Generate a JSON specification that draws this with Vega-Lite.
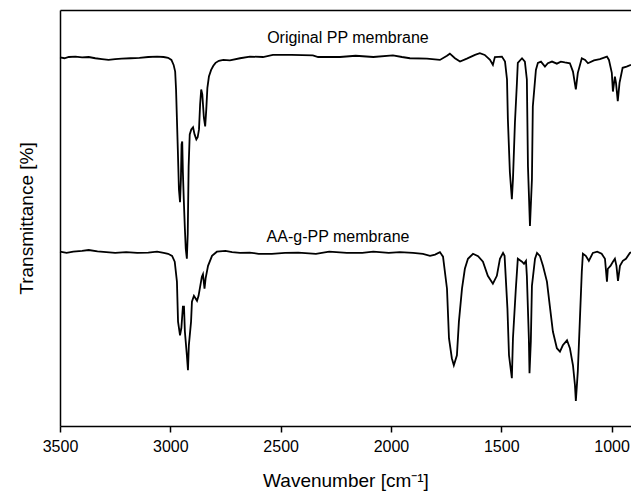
{
"$schema": "https://vega.github.io/schema/vega-lite/v6.json",
"width": 571, "height": 416,
"autosize": {"type": "none"},
"padding": {"left": 60, "top": 10, "right": 0, "bottom": 69},
"background": "white",
"config": {
 "view": {"stroke": null},
 "font": "Liberation Sans",
 "axis": {"grid": false, "domainColor": "black", "domainWidth": 1.5, "labelFont": "Liberation Sans", "labelFontSize": 16, "labelColor": "black", "titleFont": "Liberation Sans", "titleFontSize": 19, "titleFontWeight": "normal", "titleColor": "black"},
 "axisY": {"ticks": false, "labels": false, "titlePadding": 24},
 "axisX": {"tickSize": 6, "tickColor": "black", "tickWidth": 1.5, "labelPadding": 6, "titlePadding": 17, "labelFlush": false, "labelOverlap": false}
},
"datasets": {
"spectra": [
{"sample":"PP","wavenumber":3500,"transmittance":88.6},{"sample":"PP","wavenumber":3480,"transmittance":88.4},{"sample":"PP","wavenumber":3460,"transmittance":88.7},{"sample":"PP","wavenumber":3430,"transmittance":88.8},{"sample":"PP","wavenumber":3400,"transmittance":88.6},{"sample":"PP","wavenumber":3370,"transmittance":88.7},{"sample":"PP","wavenumber":3340,"transmittance":88.4},{"sample":"PP","wavenumber":3310,"transmittance":88.2},{"sample":"PP","wavenumber":3280,"transmittance":88.0},{"sample":"PP","wavenumber":3250,"transmittance":88.2},{"sample":"PP","wavenumber":3220,"transmittance":88.3},{"sample":"PP","wavenumber":3180,"transmittance":88.4},{"sample":"PP","wavenumber":3140,"transmittance":88.5},{"sample":"PP","wavenumber":3100,"transmittance":88.7},{"sample":"PP","wavenumber":3060,"transmittance":88.8},{"sample":"PP","wavenumber":3030,"transmittance":88.7},{"sample":"PP","wavenumber":3010,"transmittance":88.5},{"sample":"PP","wavenumber":2995,"transmittance":88.0},{"sample":"PP","wavenumber":2985,"transmittance":86.8},{"sample":"PP","wavenumber":2978,"transmittance":85.2},{"sample":"PP","wavenumber":2974,"transmittance":80.9},{"sample":"PP","wavenumber":2970,"transmittance":73.7},{"sample":"PP","wavenumber":2966,"transmittance":66.5},{"sample":"PP","wavenumber":2961,"transmittance":56.9},{"sample":"PP","wavenumber":2956,"transmittance":53.8},{"sample":"PP","wavenumber":2952,"transmittance":59.3},{"sample":"PP","wavenumber":2949,"transmittance":67.7},{"sample":"PP","wavenumber":2946,"transmittance":68.4},{"sample":"PP","wavenumber":2943,"transmittance":61.0},{"sample":"PP","wavenumber":2939,"transmittance":54.5},{"sample":"PP","wavenumber":2934,"transmittance":47.4},{"sample":"PP","wavenumber":2930,"transmittance":42.6},{"sample":"PP","wavenumber":2925,"transmittance":40.2},{"sample":"PP","wavenumber":2921,"transmittance":46.2},{"sample":"PP","wavenumber":2917,"transmittance":62.4},{"sample":"PP","wavenumber":2912,"transmittance":70.1},{"sample":"PP","wavenumber":2905,"transmittance":71.3},{"sample":"PP","wavenumber":2897,"transmittance":71.8},{"sample":"PP","wavenumber":2890,"transmittance":70.1},{"sample":"PP","wavenumber":2882,"transmittance":68.9},{"sample":"PP","wavenumber":2876,"transmittance":69.4},{"sample":"PP","wavenumber":2870,"transmittance":71.3},{"sample":"PP","wavenumber":2865,"transmittance":77.3},{"sample":"PP","wavenumber":2860,"transmittance":80.9},{"sample":"PP","wavenumber":2855,"transmittance":79.7},{"sample":"PP","wavenumber":2848,"transmittance":74.2},{"sample":"PP","wavenumber":2842,"transmittance":72.0},{"sample":"PP","wavenumber":2837,"transmittance":76.1},{"sample":"PP","wavenumber":2832,"transmittance":81.3},{"sample":"PP","wavenumber":2825,"transmittance":84.0},{"sample":"PP","wavenumber":2815,"transmittance":85.6},{"sample":"PP","wavenumber":2805,"transmittance":86.6},{"sample":"PP","wavenumber":2795,"transmittance":87.3},{"sample":"PP","wavenumber":2780,"transmittance":87.8},{"sample":"PP","wavenumber":2760,"transmittance":88.0},{"sample":"PP","wavenumber":2730,"transmittance":87.9},{"sample":"PP","wavenumber":2684,"transmittance":88.4},{"sample":"PP","wavenumber":2639,"transmittance":88.8},{"sample":"PP","wavenumber":2580,"transmittance":88.7},{"sample":"PP","wavenumber":2535,"transmittance":89.2},{"sample":"PP","wavenumber":2450,"transmittance":89.2},{"sample":"PP","wavenumber":2354,"transmittance":89.1},{"sample":"PP","wavenumber":2330,"transmittance":88.7},{"sample":"PP","wavenumber":2231,"transmittance":88.7},{"sample":"PP","wavenumber":2160,"transmittance":89.0},{"sample":"PP","wavenumber":2080,"transmittance":88.7},{"sample":"PP","wavenumber":1991,"transmittance":89.1},{"sample":"PP","wavenumber":1950,"transmittance":88.7},{"sample":"PP","wavenumber":1914,"transmittance":88.4},{"sample":"PP","wavenumber":1837,"transmittance":88.3},{"sample":"PP","wavenumber":1778,"transmittance":88.0},{"sample":"PP","wavenumber":1746,"transmittance":89.0},{"sample":"PP","wavenumber":1733,"transmittance":89.5},{"sample":"PP","wavenumber":1710,"transmittance":88.4},{"sample":"PP","wavenumber":1687,"transmittance":87.6},{"sample":"PP","wavenumber":1656,"transmittance":88.3},{"sample":"PP","wavenumber":1619,"transmittance":89.2},{"sample":"PP","wavenumber":1597,"transmittance":89.6},{"sample":"PP","wavenumber":1575,"transmittance":89.2},{"sample":"PP","wavenumber":1551,"transmittance":88.0},{"sample":"PP","wavenumber":1538,"transmittance":86.8},{"sample":"PP","wavenumber":1529,"transmittance":88.7},{"sample":"PP","wavenumber":1497,"transmittance":88.8},{"sample":"PP","wavenumber":1483,"transmittance":87.6},{"sample":"PP","wavenumber":1474,"transmittance":83.3},{"sample":"PP","wavenumber":1470,"transmittance":73.7},{"sample":"PP","wavenumber":1461,"transmittance":61.0},{"sample":"PP","wavenumber":1452,"transmittance":54.5},{"sample":"PP","wavenumber":1447,"transmittance":59.3},{"sample":"PP","wavenumber":1438,"transmittance":73.0},{"sample":"PP","wavenumber":1429,"transmittance":82.5},{"sample":"PP","wavenumber":1425,"transmittance":87.3},{"sample":"PP","wavenumber":1406,"transmittance":88.4},{"sample":"PP","wavenumber":1393,"transmittance":87.6},{"sample":"PP","wavenumber":1384,"transmittance":83.3},{"sample":"PP","wavenumber":1379,"transmittance":62.4},{"sample":"PP","wavenumber":1370,"transmittance":48.1},{"sample":"PP","wavenumber":1361,"transmittance":59.3},{"sample":"PP","wavenumber":1357,"transmittance":76.8},{"sample":"PP","wavenumber":1343,"transmittance":85.6},{"sample":"PP","wavenumber":1334,"transmittance":87.3},{"sample":"PP","wavenumber":1320,"transmittance":87.6},{"sample":"PP","wavenumber":1302,"transmittance":86.4},{"sample":"PP","wavenumber":1289,"transmittance":87.2},{"sample":"PP","wavenumber":1270,"transmittance":87.6},{"sample":"PP","wavenumber":1248,"transmittance":87.1},{"sample":"PP","wavenumber":1230,"transmittance":87.6},{"sample":"PP","wavenumber":1212,"transmittance":87.4},{"sample":"PP","wavenumber":1189,"transmittance":87.2},{"sample":"PP","wavenumber":1175,"transmittance":85.2},{"sample":"PP","wavenumber":1162,"transmittance":80.9},{"sample":"PP","wavenumber":1153,"transmittance":84.9},{"sample":"PP","wavenumber":1135,"transmittance":88.4},{"sample":"PP","wavenumber":1120,"transmittance":88.0},{"sample":"PP","wavenumber":1107,"transmittance":87.2},{"sample":"PP","wavenumber":1080,"transmittance":87.9},{"sample":"PP","wavenumber":1053,"transmittance":88.2},{"sample":"PP","wavenumber":1021,"transmittance":88.8},{"sample":"PP","wavenumber":1012,"transmittance":88.0},{"sample":"PP","wavenumber":999,"transmittance":84.9},{"sample":"PP","wavenumber":994,"transmittance":80.4},{"sample":"PP","wavenumber":985,"transmittance":84.0},{"sample":"PP","wavenumber":980,"transmittance":82.5},{"sample":"PP","wavenumber":972,"transmittance":78.1},{"sample":"PP","wavenumber":964,"transmittance":82.5},{"sample":"PP","wavenumber":950,"transmittance":86.1},{"sample":"PP","wavenumber":932,"transmittance":86.4},{"sample":"PP","wavenumber":912,"transmittance":86.8},
{"sample":"AA","wavenumber":3500,"transmittance":41.9},{"sample":"AA","wavenumber":3470,"transmittance":41.6},{"sample":"AA","wavenumber":3440,"transmittance":41.9},{"sample":"AA","wavenumber":3400,"transmittance":42.1},{"sample":"AA","wavenumber":3370,"transmittance":42.3},{"sample":"AA","wavenumber":3330,"transmittance":42.0},{"sample":"AA","wavenumber":3290,"transmittance":41.8},{"sample":"AA","wavenumber":3250,"transmittance":41.6},{"sample":"AA","wavenumber":3200,"transmittance":41.8},{"sample":"AA","wavenumber":3150,"transmittance":41.6},{"sample":"AA","wavenumber":3100,"transmittance":41.7},{"sample":"AA","wavenumber":3060,"transmittance":41.9},{"sample":"AA","wavenumber":3030,"transmittance":41.6},{"sample":"AA","wavenumber":3010,"transmittance":41.4},{"sample":"AA","wavenumber":2992,"transmittance":40.9},{"sample":"AA","wavenumber":2980,"transmittance":39.5},{"sample":"AA","wavenumber":2970,"transmittance":34.7},{"sample":"AA","wavenumber":2965,"transmittance":25.1},{"sample":"AA","wavenumber":2956,"transmittance":21.8},{"sample":"AA","wavenumber":2950,"transmittance":23.5},{"sample":"AA","wavenumber":2943,"transmittance":28.7},{"sample":"AA","wavenumber":2938,"transmittance":28.7},{"sample":"AA","wavenumber":2934,"transmittance":22.7},{"sample":"AA","wavenumber":2925,"transmittance":17.0},{"sample":"AA","wavenumber":2920,"transmittance":13.4},{"sample":"AA","wavenumber":2916,"transmittance":19.4},{"sample":"AA","wavenumber":2906,"transmittance":25.1},{"sample":"AA","wavenumber":2902,"transmittance":29.9},{"sample":"AA","wavenumber":2893,"transmittance":31.3},{"sample":"AA","wavenumber":2879,"transmittance":30.1},{"sample":"AA","wavenumber":2872,"transmittance":31.3},{"sample":"AA","wavenumber":2857,"transmittance":35.9},{"sample":"AA","wavenumber":2852,"transmittance":36.5},{"sample":"AA","wavenumber":2845,"transmittance":33.0},{"sample":"AA","wavenumber":2840,"transmittance":35.5},{"sample":"AA","wavenumber":2829,"transmittance":38.5},{"sample":"AA","wavenumber":2811,"transmittance":40.9},{"sample":"AA","wavenumber":2789,"transmittance":41.9},{"sample":"AA","wavenumber":2750,"transmittance":42.1},{"sample":"AA","wavenumber":2720,"transmittance":41.8},{"sample":"AA","wavenumber":2684,"transmittance":41.6},{"sample":"AA","wavenumber":2640,"transmittance":41.7},{"sample":"AA","wavenumber":2600,"transmittance":41.4},{"sample":"AA","wavenumber":2540,"transmittance":41.4},{"sample":"AA","wavenumber":2480,"transmittance":41.6},{"sample":"AA","wavenumber":2420,"transmittance":41.7},{"sample":"AA","wavenumber":2340,"transmittance":41.4},{"sample":"AA","wavenumber":2280,"transmittance":41.9},{"sample":"AA","wavenumber":2200,"transmittance":41.6},{"sample":"AA","wavenumber":2130,"transmittance":41.6},{"sample":"AA","wavenumber":2080,"transmittance":41.9},{"sample":"AA","wavenumber":2010,"transmittance":41.6},{"sample":"AA","wavenumber":1960,"transmittance":41.8},{"sample":"AA","wavenumber":1900,"transmittance":41.6},{"sample":"AA","wavenumber":1855,"transmittance":41.4},{"sample":"AA","wavenumber":1823,"transmittance":40.9},{"sample":"AA","wavenumber":1800,"transmittance":41.2},{"sample":"AA","wavenumber":1778,"transmittance":41.8},{"sample":"AA","wavenumber":1764,"transmittance":40.7},{"sample":"AA","wavenumber":1746,"transmittance":33.0},{"sample":"AA","wavenumber":1737,"transmittance":21.1},{"sample":"AA","wavenumber":1724,"transmittance":16.3},{"sample":"AA","wavenumber":1715,"transmittance":14.6},{"sample":"AA","wavenumber":1701,"transmittance":17.0},{"sample":"AA","wavenumber":1692,"transmittance":25.1},{"sample":"AA","wavenumber":1678,"transmittance":33.0},{"sample":"AA","wavenumber":1665,"transmittance":37.8},{"sample":"AA","wavenumber":1651,"transmittance":40.2},{"sample":"AA","wavenumber":1628,"transmittance":41.4},{"sample":"AA","wavenumber":1605,"transmittance":40.8},{"sample":"AA","wavenumber":1583,"transmittance":39.5},{"sample":"AA","wavenumber":1561,"transmittance":36.1},{"sample":"AA","wavenumber":1538,"transmittance":34.2},{"sample":"AA","wavenumber":1520,"transmittance":36.1},{"sample":"AA","wavenumber":1506,"transmittance":40.2},{"sample":"AA","wavenumber":1492,"transmittance":41.6},{"sample":"AA","wavenumber":1485,"transmittance":40.9},{"sample":"AA","wavenumber":1472,"transmittance":28.2},{"sample":"AA","wavenumber":1465,"transmittance":17.0},{"sample":"AA","wavenumber":1452,"transmittance":11.5},{"sample":"AA","wavenumber":1447,"transmittance":21.1},{"sample":"AA","wavenumber":1434,"transmittance":33.0},{"sample":"AA","wavenumber":1425,"transmittance":40.2},{"sample":"AA","wavenumber":1406,"transmittance":39.5},{"sample":"AA","wavenumber":1397,"transmittance":39.0},{"sample":"AA","wavenumber":1388,"transmittance":39.7},{"sample":"AA","wavenumber":1384,"transmittance":36.1},{"sample":"AA","wavenumber":1375,"transmittance":21.1},{"sample":"AA","wavenumber":1372,"transmittance":12.7},{"sample":"AA","wavenumber":1366,"transmittance":20.3},{"sample":"AA","wavenumber":1361,"transmittance":33.7},{"sample":"AA","wavenumber":1347,"transmittance":40.2},{"sample":"AA","wavenumber":1338,"transmittance":41.6},{"sample":"AA","wavenumber":1325,"transmittance":40.9},{"sample":"AA","wavenumber":1311,"transmittance":38.5},{"sample":"AA","wavenumber":1293,"transmittance":34.7},{"sample":"AA","wavenumber":1280,"transmittance":28.9},{"sample":"AA","wavenumber":1266,"transmittance":22.7},{"sample":"AA","wavenumber":1248,"transmittance":18.7},{"sample":"AA","wavenumber":1234,"transmittance":17.9},{"sample":"AA","wavenumber":1221,"transmittance":19.4},{"sample":"AA","wavenumber":1202,"transmittance":20.6},{"sample":"AA","wavenumber":1189,"transmittance":18.7},{"sample":"AA","wavenumber":1175,"transmittance":14.6},{"sample":"AA","wavenumber":1166,"transmittance":9.8},{"sample":"AA","wavenumber":1162,"transmittance":6.0},{"sample":"AA","wavenumber":1153,"transmittance":13.2},{"sample":"AA","wavenumber":1144,"transmittance":25.1},{"sample":"AA","wavenumber":1135,"transmittance":37.1},{"sample":"AA","wavenumber":1130,"transmittance":41.4},{"sample":"AA","wavenumber":1117,"transmittance":40.9},{"sample":"AA","wavenumber":1103,"transmittance":39.7},{"sample":"AA","wavenumber":1085,"transmittance":41.6},{"sample":"AA","wavenumber":1065,"transmittance":41.9},{"sample":"AA","wavenumber":1045,"transmittance":41.4},{"sample":"AA","wavenumber":1030,"transmittance":40.2},{"sample":"AA","wavenumber":1021,"transmittance":34.7},{"sample":"AA","wavenumber":1017,"transmittance":37.8},{"sample":"AA","wavenumber":1005,"transmittance":38.5},{"sample":"AA","wavenumber":994,"transmittance":39.5},{"sample":"AA","wavenumber":985,"transmittance":40.2},{"sample":"AA","wavenumber":978,"transmittance":38.5},{"sample":"AA","wavenumber":971,"transmittance":34.9},{"sample":"AA","wavenumber":962,"transmittance":38.5},{"sample":"AA","wavenumber":949,"transmittance":39.7},{"sample":"AA","wavenumber":935,"transmittance":40.2},{"sample":"AA","wavenumber":917,"transmittance":41.6},{"sample":"AA","wavenumber":912,"transmittance":41.8}
],
"labels": [
{"label":"Original PP membrane","wavenumber":2195,"transmittance":93.3},
{"label":"AA-g-PP membrane","wavenumber":2240,"transmittance":45.4}
]
},
"layer": [
 {"data": {"name": "spectra"},
  "mark": {"type": "line", "color": "black", "strokeWidth": 1.8},
  "encoding": {
   "x": {"field": "wavenumber", "type": "quantitative", "scale": {"domain": [3500, 912], "nice": false, "zero": false},
         "axis": {"values": [3500, 3000, 2500, 2000, 1500, 1000], "format": "d", "title": "Wavenumber [cm⁻¹]"}},
   "y": {"field": "transmittance", "type": "quantitative", "scale": {"domain": [0, 100], "nice": false, "zero": false},
         "axis": {"title": "Transmittance [%]"}},
   "detail": {"field": "sample", "type": "nominal"}
  }},
 {"data": {"name": "labels"},
  "mark": {"type": "text", "font": "Liberation Sans", "fontSize": 16, "color": "black", "align": "center", "baseline": "middle"},
  "encoding": {
   "x": {"field": "wavenumber", "type": "quantitative", "axis": {"orient": "top", "labels": false, "ticks": false, "title": null}},
   "y": {"field": "transmittance", "type": "quantitative"},
   "text": {"field": "label", "type": "nominal"}
  }}
],
"resolve": {"axis": {"x": "independent"}}
}
